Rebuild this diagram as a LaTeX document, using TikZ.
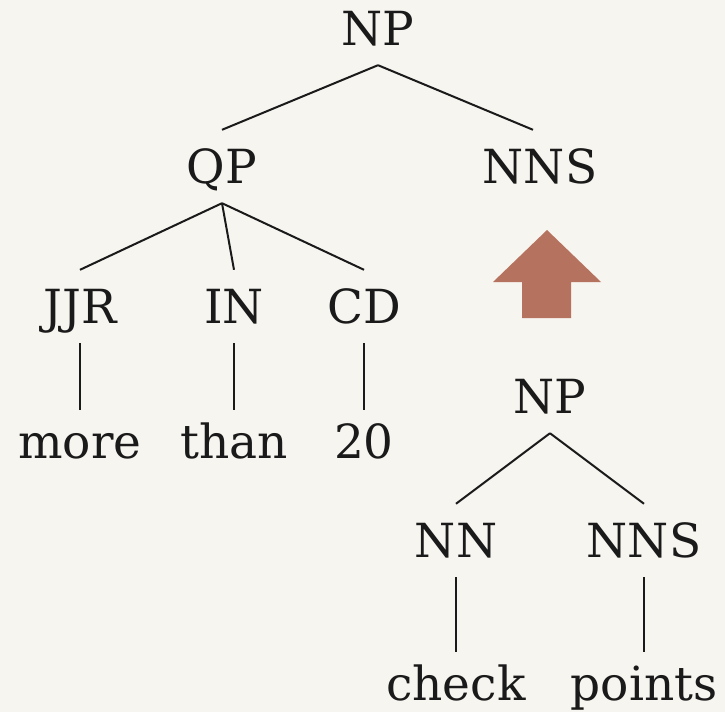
\documentclass[tikz,border=0pt]{standalone}
\usepackage{fontspec}
\setmainfont{DejaVu Serif}
\definecolor{bgcol}{HTML}{F7F5F0}
\definecolor{inkcol}{HTML}{1A1A1A}
\definecolor{arrowcol}{HTML}{B5735F}
\begin{document}
\begin{tikzpicture}[x=1pt,y=-1pt,
  cat/.style={anchor=base,inner sep=0pt,text height=53pt,text depth=20pt,text=inkcol,font=\fontsize{47}{56}\selectfont},
  word/.style={anchor=base,inner sep=0pt,text height=48pt,text depth=0pt,text=inkcol,font=\fontsize{47}{56}\selectfont},
  edge/.style={draw=inkcol,line width=2pt}]
\fill[bgcol] (0,0) rectangle (725,712);
\useasboundingbox (0,0) rectangle (725,712);
% nodes
\node[cat] (np) at (378,45) {NP};
\node[cat] (qp) at (222,183) {QP};
\node[cat] (nns) at (540,183) {NNS};
\node[cat] (jjr) at (80,323) {JJR};
\node[cat] (in) at (234,323) {IN};
\node[cat] (cd) at (364,323) {CD};
\node[word] (more) at (80,458) {more};
\node[word] (than) at (234,458) {than};
\node[word] (twenty) at (364,458) {20};
\node[cat] (np2) at (550,413) {NP};
\node[cat] (nn) at (456,557) {NN};
\node[cat] (nns2) at (644,557) {NNS};
\node[word] (check) at (456,700) {check};
\node[word] (points) at (644,700) {points};
% connectors
\draw[edge] (np.south) -- (qp.north);
\draw[edge] (np.south) -- ([xshift=-7pt]nns.north);
\draw[edge] (qp.south) -- (jjr.north);
\draw[edge] (qp.south) -- (in.north);
\draw[edge] (qp.south) -- (cd.north);
\draw[edge] (jjr.south) -- (more.north);
\draw[edge] (in.south) -- (than.north);
\draw[edge] (cd.south) -- (twenty.north);
\draw[edge] (np2.south) -- (nn.north);
\draw[edge] (np2.south) -- (nns2.north);
\draw[edge] (nn.south) -- (check.north);
\draw[edge] (nns2.south) -- (points.north);
% arrow
\fill[arrowcol] (547,230) -- (601,282) -- (571,282) -- (571,318) -- (522,318) -- (522,282) -- (493,282) -- cycle;
\end{tikzpicture}
\end{document}
